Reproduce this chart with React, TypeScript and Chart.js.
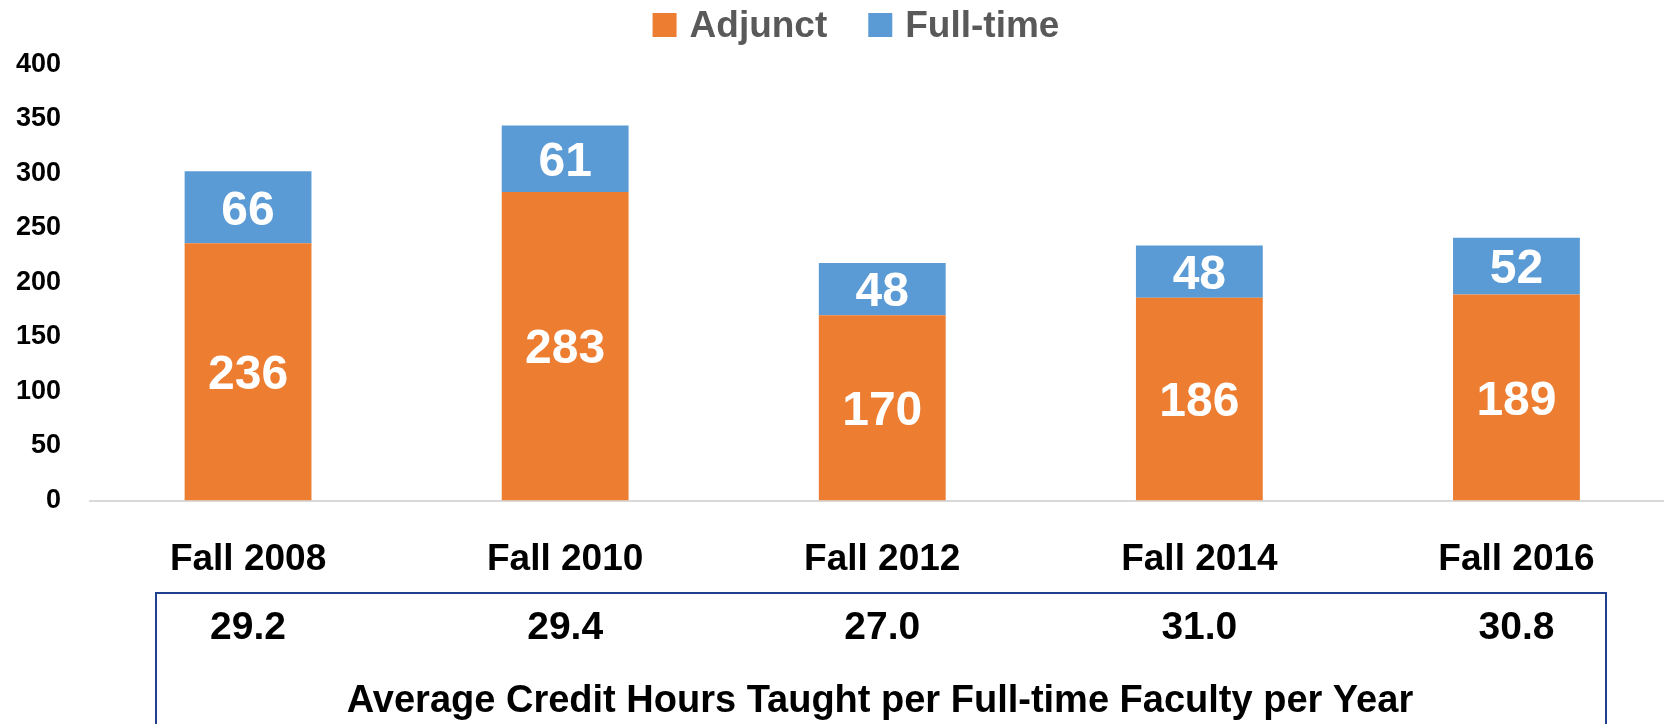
import React, { useEffect, useRef } from 'react';
import { Chart, registerables } from 'chart.js';

Chart.register(...registerables);

const categories = ['Fall 2008', 'Fall 2010', 'Fall 2012', 'Fall 2014', 'Fall 2016'];
const adjunctValues = [236, 283, 170, 186, 189];
const fullTimeValues = [66, 61, 48, 48, 52];
const avgCreditHours = [29.2, 29.4, 27.0, 31.0, 30.8];
const seriesNames = ['Adjunct', 'Full-time'];
const seriesColors = ['#ED7D31', '#5B9BD5'];
const yMin = 0;
const yMax = 400;
const yStep = 50;
const tableTitle = 'Average Credit Hours Taught per Full-time Faculty per Year';

const FONT = "'Liberation Sans', Arial, sans-serif";

const overlayPlugin = {
  id: 'overlay',
  afterDatasetsDraw(chart: any) {
    const ctx = chart.ctx;
    ctx.save();
    ctx.fillStyle = '#ffffff';
    ctx.font = `bold 48px ${FONT}`;
    ctx.textAlign = 'center';
    ctx.textBaseline = 'middle';
    chart.data.datasets.forEach((ds: any, di: number) => {
      const meta = chart.getDatasetMeta(di);
      meta.data.forEach((el: any, i: number) => {
        const p = el.getProps(['x', 'y', 'base'], true);
        ctx.fillText(String(ds.data[i]), p.x, (p.y + p.base) / 2 + 4);
      });
    });
    ctx.restore();
  },
  afterDraw(chart: any) {
    const ctx = chart.ctx;
    ctx.save();
    // Legend
    ctx.font = `bold 37px ${FONT}`;
    const box = 24;
    const gap = 13;
    const itemGap = 41;
    const widths = chart.data.datasets.map((d: any) => ctx.measureText(d.label).width);
    const total = widths.reduce((a: number, w: number) => a + box + gap + w, 0) + itemGap * (widths.length - 1);
    let x = 856 - total / 2;
    chart.data.datasets.forEach((d: any, i: number) => {
      ctx.fillStyle = d.backgroundColor;
      ctx.fillRect(x, 13, box, box);
      x += box + gap;
      ctx.fillStyle = '#595959';
      ctx.textAlign = 'left';
      ctx.textBaseline = 'alphabetic';
      ctx.fillText(d.label, x, 37);
      x += widths[i] + itemGap;
    });

    // Table box
    ctx.strokeStyle = '#203F8F';
    ctx.lineWidth = 2;
    ctx.strokeRect(156, 593, 1606 - 156, 200);

    // Values
    const xs = chart.scales.x;
    ctx.fillStyle = '#000000';
    ctx.font = `bold 39px ${FONT}`;
    ctx.textAlign = 'center';
    ctx.textBaseline = 'middle';
    avgCreditHours.forEach((v, i) => {
      ctx.fillText(v.toFixed(1), xs.getPixelForValue(i), 628);
    });

    // Title
    ctx.font = `bold 38px ${FONT}`;
    ctx.fillText(tableTitle, 880, 702);
    ctx.restore();
  },
};

export default function App() {
  const ref = useRef<HTMLCanvasElement | null>(null);

  useEffect(() => {
    if (!ref.current) return;
    const chart = new Chart(ref.current, {
      type: 'bar',
      data: {
        labels: categories,
        datasets: [
          { label: seriesNames[0], data: adjunctValues, backgroundColor: seriesColors[0], borderWidth: 0 },
          { label: seriesNames[1], data: fullTimeValues, backgroundColor: seriesColors[1], borderWidth: 0 },
        ],
      },
      options: {
        animation: false,
        responsive: false,
        maintainAspectRatio: false,
        layout: { padding: { left: 0, right: 0, top: 64.5, bottom: 0 } },
        datasets: { bar: { barPercentage: 0.4, categoryPercentage: 1 } },
        plugins: {
          legend: { display: false },
          tooltip: { enabled: false },
          title: { display: false },
        },
        scales: {
          x: {
            stacked: true,
            grid: { display: false, drawTicks: false },
            border: { display: true, color: '#d9d9d9', width: 2 },
            ticks: { color: '#000000', font: { family: FONT, size: 37, weight: 'bold' }, padding: 37.5, maxRotation: 0 },
            afterFit: (s: any) => { s.height = 223.5; },
          },
          y: {
            stacked: true,
            min: yMin,
            max: yMax,
            grid: { display: false, drawTicks: false },
            border: { display: false },
            ticks: { stepSize: yStep, color: '#000000', font: { family: FONT, size: 27, weight: 'bold' }, padding: 28.5 },
            afterFit: (s: any) => { s.width = 89.5; },
          },
        },
      } as any,
      plugins: [overlayPlugin],
    });
    return () => chart.destroy();
  }, []);

  return (
    <div style={{ position: 'absolute', left: 0, top: 0, width: 1664, height: 724, overflow: 'hidden', background: '#fff' }}>
      <canvas ref={ref} width={1675} height={724} style={{ display: 'block' }} />
    </div>
  );
}
